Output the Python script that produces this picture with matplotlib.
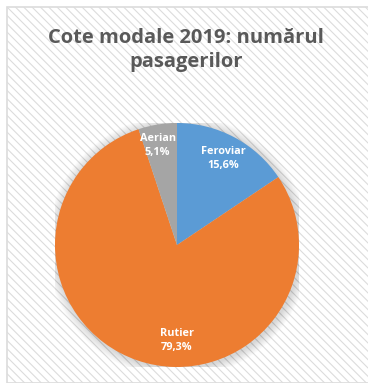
import numpy as np
import matplotlib
matplotlib.use("Agg")
import matplotlib.pyplot as plt
from matplotlib.patches import Rectangle, Circle

categories = ["Feroviar", "Rutier", "Aerian"]
shares = [15.6, 79.3, 5.1]
colors = ["#5B9BD5", "#ED7D31", "#A5A5A5"]
title = "Cote modale 2019: numărul\npasagerilor"

plt.rcParams["font.family"] = ["Open Sans", "DejaVu Sans"]
plt.rcParams["hatch.color"] = "#f1f1f1"
plt.rcParams["hatch.linewidth"] = 0.8

W, H = 368, 383
fig = plt.figure(figsize=(W / 100, H / 100), dpi=100)
fig.patch.set_facecolor("white")

# striped chart-area background with a thin frame
bg = Rectangle((7 / W, 0), 1, 1 - 7 / H, transform=fig.transFigure,
               facecolor="white", edgecolor="#dcdcdc", linewidth=1.2,
               hatch="\\\\\\\\", zorder=0)
fig.add_artist(bg)

# pie axes: centre (177, 245) px, radius ~122 px
cx, cy, r = 177, 245, 122
ax = fig.add_axes([(cx - r) / W, (H - cy - r) / H, 2 * r / W, 2 * r / H])
ax.axis("off")

wedges, _ = ax.pie(shares, colors=colors, startangle=90, counterclock=False,
                   radius=1.0, wedgeprops=dict(linewidth=0), center=(0, 0))
for w in wedges:
    w.set_zorder(2)

# soft glow beneath the pie
for i in range(10):
    ax.add_patch(Circle((0.01, -0.01), 1.0 + 0.008 * (i + 1), facecolor="black",
                        edgecolor="none", alpha=0.016, zorder=0))

ax.set_xlim(-1, 1)
ax.set_ylim(-1, 1)
ax.set_aspect("equal")

# label placement: (distance from centre, angle override in degrees or None)
placement = [(0.80, None), (0.78, -90), (0.83, 101)]
for w, name, val, (d, ang) in zip(wedges, categories, shares, placement):
    a = (w.theta1 + w.theta2) / 2 if ang is None else ang
    a = np.deg2rad(a)
    label = f"{name}\n{val:.1f}%".replace(".", ",")
    ax.text(d * np.cos(a), d * np.sin(a), label, ha="center", va="center",
            color="white", fontsize=7.8, fontweight="bold", linespacing=1.35,
            zorder=3)

fig.text(186 / W, 1 - 50 / H, title, ha="center", va="center",
         fontsize=14.5, fontweight="bold", color="#595959", linespacing=1.25)

fig.savefig("out.png", dpi=100)
